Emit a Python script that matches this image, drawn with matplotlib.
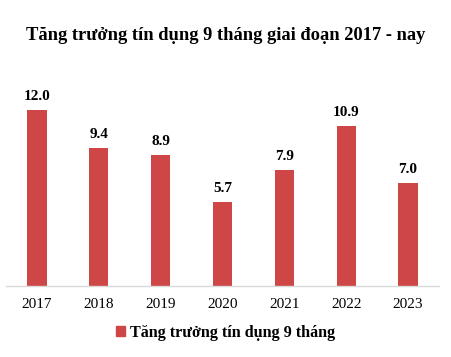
import matplotlib.pyplot as plt
from matplotlib.patches import Patch

years = ['2017', '2018', '2019', '2020', '2021', '2022', '2023']
growth = [12.0, 9.4, 8.9, 5.7, 7.9, 10.9, 7.0]
series_name = 'Tăng trưởng tín dụng 9 tháng'
title = 'Tăng trưởng tín dụng 9 tháng giai đoạn 2017 - nay'

bar_color = '#CF4646'
plt.rcParams['font.family'] = ['Liberation Serif', 'DejaVu Serif']

fig = plt.figure(figsize=(4.51, 3.57), dpi=100)
W, H = 451, 357
# axes: baseline at y=286px, 0..14 units -> 14.67 px per unit
ax = fig.add_axes([6 / W, (H - 286) / H, 433 / W, (14 * 14.67) / H])

x = range(len(years))
ax.bar(x, growth, width=0.31, color=bar_color)
for i, v in enumerate(growth):
    ax.annotate(f'{v:.1f}', (i, v), xytext=(0, 5), textcoords='offset points',
                ha='center', va='bottom', fontsize=11, fontweight='bold')

ax.set_xlim(-0.5, len(years) - 0.5)
ax.set_ylim(0, 14)
ax.set_xticks(list(x))
ax.set_xticklabels(years, fontsize=11)
ax.tick_params(axis='x', length=0, pad=8.5)
ax.set_yticks([])
for s in ['top', 'left', 'right']:
    ax.spines[s].set_visible(False)
ax.spines['bottom'].set_color('#D9D9D9')
ax.spines['bottom'].set_linewidth(1)

fig.text(0.5, 1 - 35 / H, title, ha='center', va='center',
         fontsize=13.3, fontweight='bold')

fig.legend(handles=[Patch(color=bar_color, label=series_name)],
           loc='center', bbox_to_anchor=(0.5, 1 - 333 / H), frameon=False,
           prop={'size': 11.6, 'weight': 'bold'}, handlelength=0.6,
           handleheight=0.6, handletextpad=0.3)

fig.savefig('out.png', dpi=100)
